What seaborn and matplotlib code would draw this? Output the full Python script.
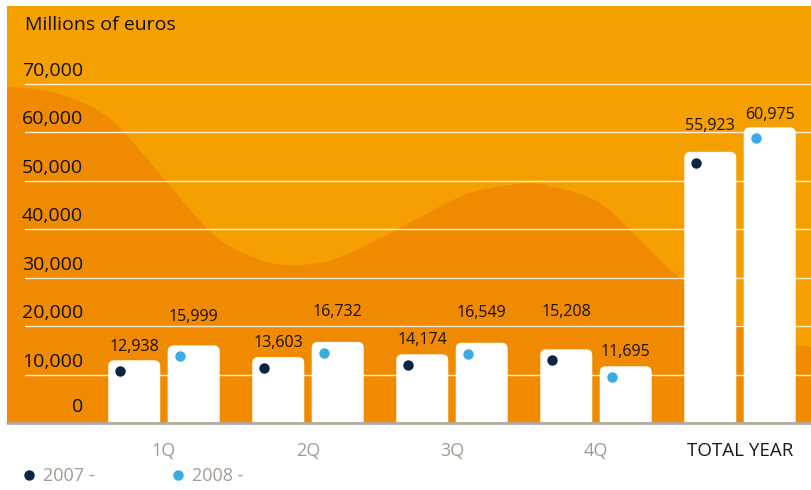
import numpy as np
import pandas as pd
import matplotlib
matplotlib.use("Agg")
import matplotlib.pyplot as plt
import seaborn as sns
from matplotlib.patches import FancyBboxPatch
from matplotlib.lines import Line2D
from matplotlib.transforms import ScaledTranslation

# --- data -------------------------------------------------------------
quarters = ["1Q", "2Q", "3Q", "4Q", "TOTAL YEAR"]
years = ["2007", "2008"]
sales_2007 = [12938, 13603, 14174, 15208, 55923]
sales_2008 = [15999, 16732, 16549, 11695, 60975]
y_ticks = [0, 10000, 20000, 30000, 40000, 50000, 60000, 70000]

# vertical lift (pixels) of each value label above its bar
label_lift_2007 = [13, 14, 14, 37, 26]
label_lift_2008 = [28, 30, 30, 14, 12]

# --- style ------------------------------------------------------------
sns.set_theme(style="white")
plt.rcParams["font.family"] = ["Open Sans", "DejaVu Sans"]

LIGHT_ORANGE = "#F5A000"
DARK_ORANGE = "#F08A00"
NAVY = "#0B2444"
SKY = "#3AACE2"
GREY = "#A39B93"
dot_colors = {"2007": NAVY, "2008": SKY}

W, H = 811, 490
fig = plt.figure(figsize=(W / 100, H / 100), dpi=100)
fig.patch.set_facecolor("white")
ax = fig.add_axes([7 / W, 67 / H, 804 / W, 417 / H])
ax.set_facecolor(LIGHT_ORANGE)

df = pd.DataFrame({
    "quarter": quarters * 2,
    "year": [years[0]] * len(quarters) + [years[1]] * len(quarters),
    "sales": sales_2007 + sales_2008,
})

sns.barplot(data=df, x="quarter", y="sales", hue="year", order=quarters,
            hue_order=years, palette=["white", "white"], saturation=1,
            width=0.826, gap=0.126, legend=False, ax=ax, zorder=2)

x0, x1 = -1.09, 4.493
y0, y1 = 0, 86000
ax.set_xlim(x0, x1)
ax.set_ylim(y0, y1)

px_x = 804 / (x1 - x0)   # pixels per x unit
px_y = 417 / (y1 - y0)   # pixels per y unit

# background wave (decorative): outline knots in pixels, smoothed
wave_px = [(-60, 85), (7, 86), (60, 92), (110, 115), (165, 180), (215, 240),
           (270, 265), (300, 266), (335, 261), (400, 228), (467, 192),
           (533, 181), (600, 199), (667, 268), (740, 328), (800, 347),
           (880, 350)]
kx = np.array([p[0] for p in wave_px], dtype=float)
ky = np.array([p[1] for p in wave_px], dtype=float)
gx = np.arange(-60, 881, 1.0)
gy = np.interp(gx, kx, ky)
k = np.arange(-45, 46)
kernel = np.exp(-0.5 * (k / 14.0) ** 2)
kernel /= kernel.sum()
gy = np.convolve(np.pad(gy, 45, mode="edge"), kernel, mode="valid")
wx = (gx - 7) / 804
wy = (423 - gy) / 417
ax.fill_between(wx, 0, wy, color=DARK_ORANGE, lw=0, zorder=0,
                transform=ax.transAxes)

# gridlines
for v in y_ticks[1:]:
    ax.axhline(v, xmin=(25 - 7) / 804, xmax=1, color="white", alpha=0.85,
               lw=1.0, zorder=1)
ax.axhline(0, color="#B3ABA3", lw=2, zorder=5, clip_on=False)

# rounded-top bars replacing the plain rectangles
r_px = 6
r_x = r_px / px_x
r_y = r_px / px_y
dot_shift = ScaledTranslation(0, -11 / 100, fig.dpi_scale_trans)
lifts = {"2007": label_lift_2007, "2008": label_lift_2008}

for cont, year in zip(ax.containers, years):
    for i, bar in enumerate(cont):
        bx, bw, bh = bar.get_x(), bar.get_width(), bar.get_height()
        bar.set_visible(False)
        rounded = FancyBboxPatch((bx, -3000), bw, bh + 3000,
                                 boxstyle=f"round,pad=0,rounding_size={r_x}",
                                 mutation_aspect=r_y / r_x,
                                 facecolor="white", edgecolor="none", zorder=2)
        ax.add_patch(rounded)
        ax.plot([bx + 12 / px_x], [bh], "o", color=dot_colors[year],
                ms=7.5, mec="none", zorder=3,
                transform=ax.transData + dot_shift)
        ax.annotate(f"{int(bh):,}", xy=(bx + bw / 2, bh),
                    xytext=(0, lifts[year][i] * 0.72), textcoords="offset points",
                    ha="center", va="center", fontsize=11.5, color="#1A1108",
                    zorder=4)

# y labels sit just above their gridlines
for v in y_ticks:
    lift = 16 if v == 0 else 13
    ax.annotate(f"{v:,}", xy=((83 - 7) / 804, v),
                xycoords=("axes fraction", "data"),
                xytext=(0, lift * 0.72), textcoords="offset points",
                ha="right", va="center", fontsize=14, color="#111111")

ax.set_yticks([])
ax.set_xticks(range(len(quarters)))
ax.set_xticklabels(quarters)
ax.tick_params(axis="x", length=0, pad=14)
for lbl in ax.get_xticklabels():
    if lbl.get_text() == "TOTAL YEAR":
        lbl.set_color("#1A1A1A")
        lbl.set_fontsize(13.5)
    else:
        lbl.set_color(GREY)
        lbl.set_fontsize(13)
ax.set_xlabel("")
ax.set_ylabel("")
for s in ax.spines.values():
    s.set_visible(False)

fig.text(25 / W, 1 - 25 / H, "Millions of euros", fontsize=14,
         ha="left", va="center", color="#111111")

handles = [Line2D([], [], marker="o", linestyle="", color=dot_colors[y],
                  markersize=7.5, mec="none") for y in years]
fig.legend(handles, [f"{y} -" for y in years], loc="center left",
           bbox_to_anchor=(22 / W, 1 - 476 / H), ncol=2, frameon=False,
           fontsize=13, labelcolor=GREY, handlelength=0.8, handletextpad=0.35,
           columnspacing=4.25, borderpad=0, borderaxespad=0)

fig.savefig("out.png", dpi=100, facecolor="white")
